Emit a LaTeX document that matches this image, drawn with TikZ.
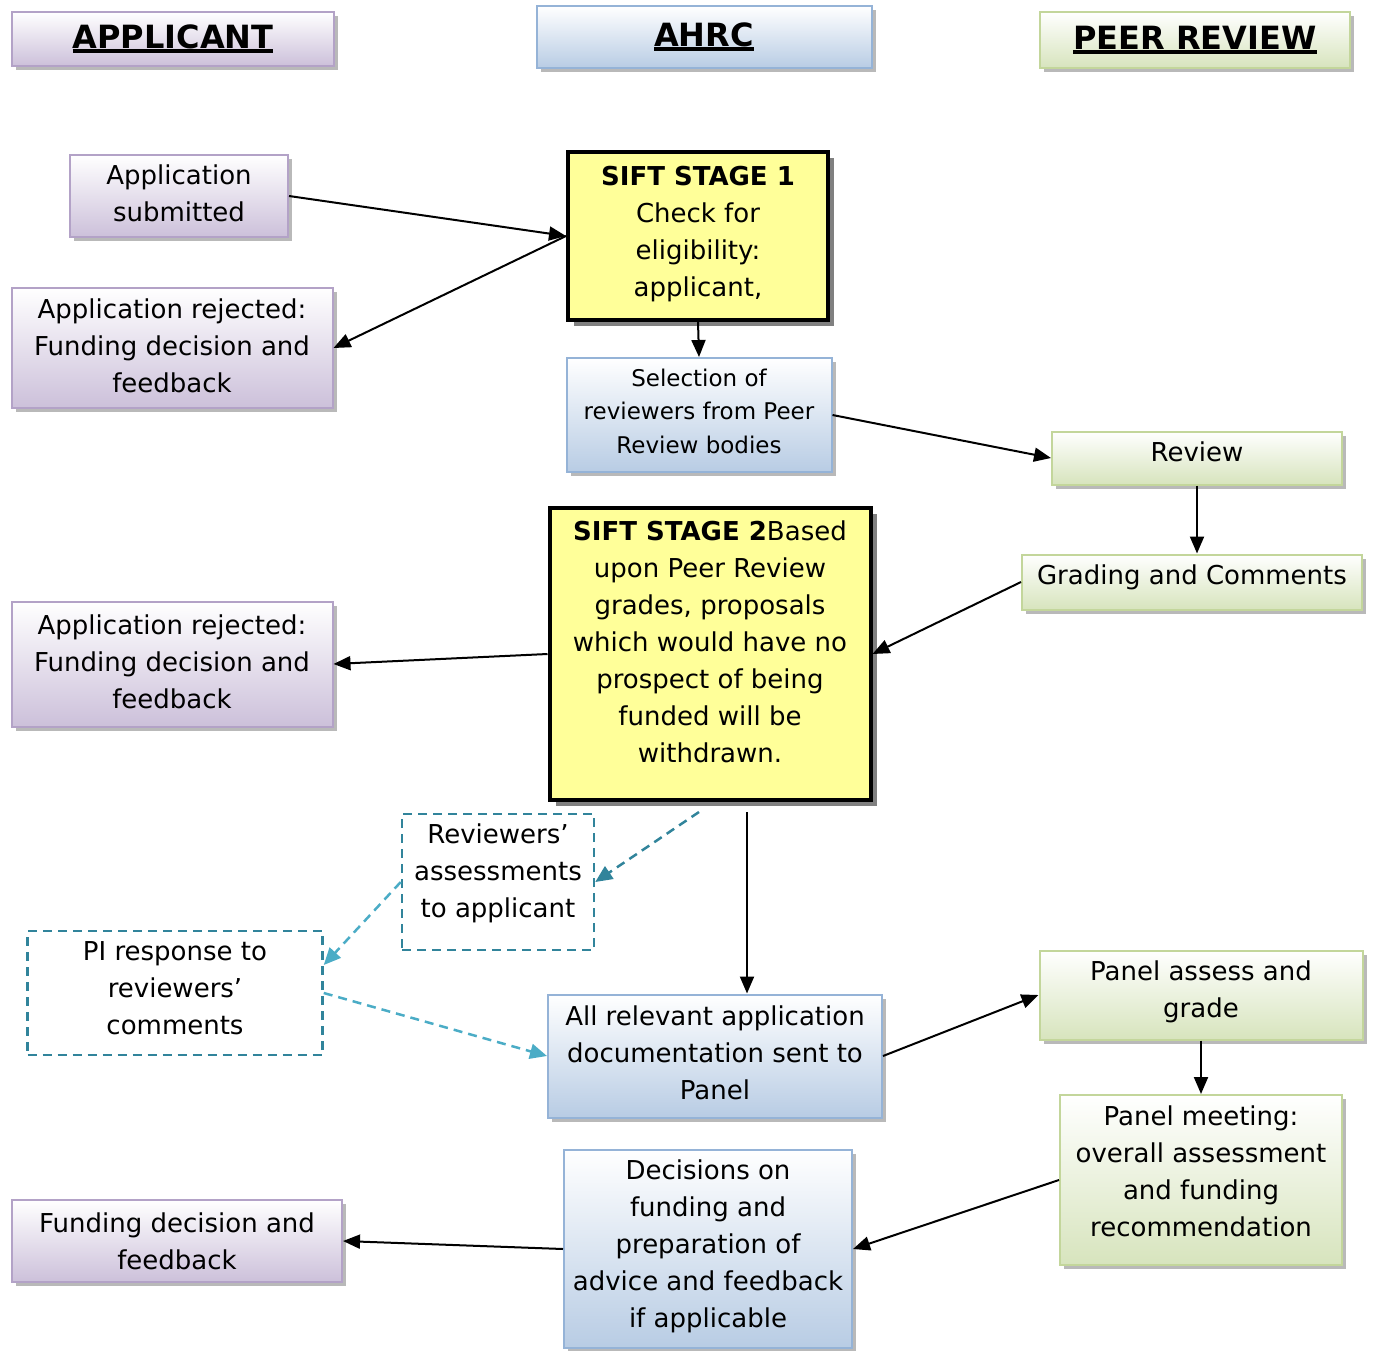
\documentclass[tikz,border=0pt]{standalone}
\usepackage{fontspec}
\setmainfont{DejaVu Sans}
\usepackage{tikz}
\usetikzlibrary{arrows.meta,shadows}

\definecolor{lilac}{HTML}{B3A2C7}
\definecolor{lilacfill}{HTML}{CCC0DA}
\definecolor{skyline}{HTML}{95B3D7}
\definecolor{skyfill}{HTML}{B8CCE4}
\definecolor{sageline}{HTML}{C3D69B}
\definecolor{sagefill}{HTML}{D7E4BD}
\definecolor{siftyellow}{HTML}{FFFF99}
\definecolor{tealdark}{HTML}{31849B}
\definecolor{teallight}{HTML}{4BACC6}

% heading with a heavy underline
\newcommand{\hdline}[1]{\setbox0\hbox{#1}\rlap{\raisebox{-5pt}{\rule{\wd0}{4pt}}}\box0}

\begin{document}
\begin{tikzpicture}[x=1pt,y=-1pt,
        font=\fontsize{26}{37}\selectfont,
        box/.style={rectangle,draw,line width=2pt,align=center,inner sep=2pt,
          drop shadow={shadow xshift=4pt,shadow yshift=-4pt,fill=gray!55,opacity=1}},
        applicant/.style={box,draw=lilac,top color=white,bottom color=lilacfill},
        ahrc/.style={box,draw=skyline,top color=white,bottom color=skyfill},
        peer/.style={box,draw=sageline,top color=white,bottom color=sagefill},
        heading/.style={font=\fontsize{32}{38}\selectfont\bfseries},
        sift/.style={rectangle,draw=black,line width=4pt,fill=siftyellow,align=center,
          drop shadow={shadow xshift=6pt,shadow yshift=-6pt,fill=gray,opacity=1}},
        note/.style={rectangle,draw=tealdark,line width=2.5pt,dash pattern=on 9pt off 6pt,align=center},
        flow/.style={-{Triangle[length=17pt,width=14pt]},line width=2pt},
        hint/.style={-{Triangle[length=17pt,width=15pt]},line width=2.5pt,dash pattern=on 9pt off 6pt}]
        \useasboundingbox (0,0) rectangle (1373,1351);

        % column headings
        \node[applicant,heading,minimum width=322pt,minimum height=54pt] (hApplicant) at (173,39) {\hdline{APPLICANT}};
        \node[ahrc,heading,minimum width=335pt,minimum height=62pt] (hAhrc) at (704,37) {\hdline{AHRC}};
        \node[peer,heading,minimum width=310pt,minimum height=56pt] (hPeer) at (1195,40) {\hdline{PEER REVIEW}};

        % applicant column
        \node[applicant,minimum width=218pt,minimum height=82pt,text depth=5pt] (submitted) at (179,196) {Application\\submitted};
        \node[applicant,minimum width=321pt,minimum height=120pt,text depth=4pt] (rejectA) at (172,348) {Application rejected:\\Funding decision and\\feedback};
        \node[applicant,minimum width=321pt,minimum height=125pt,text depth=4pt] (rejectB) at (172,664) {Application rejected:\\Funding decision and\\feedback};
        \node[note,draw=tealdark,minimum width=295pt,minimum height=124pt,text depth=10pt] (response) at (175,993) {PI response to\\reviewers’\\comments};
        \node[applicant,minimum width=330pt,minimum height=82pt] (funding) at (177,1241) {Funding decision and\\feedback};

        % AHRC column
        \node[sift,minimum width=260pt,minimum height=167pt,text depth=10pt] (siftA) at (698,236) {{\bfseries SIFT STAGE 1}\\Check for\\eligibility:\\applicant,};
        \node[ahrc,font=\fontsize{23}{33.5}\selectfont,minimum width=265pt,minimum height=114pt,text depth=8pt] (selection) at (699,415) {Selection of\\reviewers from Peer\\Review bodies};
        \node[sift,minimum width=321pt,minimum height=292pt,text depth=24pt] (siftB) at (710,654) {{\bfseries SIFT STAGE 2}Based\\upon Peer Review\\grades, proposals\\which would have no\\prospect of being\\funded will be\\withdrawn.};
        \node[note,minimum width=192pt,minimum height=136pt,text depth=22pt] (assessments) at (498,882) {Reviewers’\\assessments\\to applicant};
        \node[ahrc,minimum width=334pt,minimum height=123pt,text depth=6pt] (panelDocs) at (715,1056) {All relevant application\\documentation sent to\\Panel};
        \node[ahrc,minimum width=288pt,minimum height=198pt,text depth=10pt] (decisions) at (708,1249) {Decisions on\\funding and\\preparation of\\advice and feedback\\if applicable};

        % peer review column
        \node[peer,minimum width=290pt,minimum height=53pt,text depth=12pt] (review) at (1197,458) {Review};
        \node[peer,minimum width=340pt,minimum height=55pt,text depth=14pt] (grading) at (1192,582) {Grading and Comments};
        \node[peer,minimum width=323pt,minimum height=89pt,text depth=12pt] (panelGrade) at (1201,995) {Panel assess and\\grade};
        \node[peer,minimum width=282pt,minimum height=170pt,text depth=18pt] (panelMeet) at (1201,1180) {Panel meeting:\\overall assessment\\and funding\\recommendation};

        % connectors
        \draw[flow] (submitted.east) -- (siftA.west);
        \draw[flow] (siftA.west) -- (rejectA.east);
        \draw[flow] (siftA.south) -- (selection.north);
        \draw[flow] (selection.east) -- (review.west);
        \draw[flow] (review.south) -- (review.south |- grading.north);
        \draw[flow] (grading.west) -- (siftB.east);
        \draw[flow] (siftB.west) -- (rejectB.east);
        \draw[flow] ([xshift=37pt,yshift=-10pt]siftB.south) -- ([xshift=32pt]panelDocs.north);
        \draw[hint,tealdark] ([xshift=-11pt,yshift=-10pt]siftB.south) -- (assessments.east);
        \draw[hint,teallight] (assessments.west) -- ([yshift=28pt]response.east);
        \draw[hint,teallight] (response.east) -- (panelDocs.west);
        \draw[flow] (panelDocs.east) -- (panelGrade.west);
        \draw[flow] (panelGrade.south) -- (panelMeet.north);
        \draw[flow] (panelMeet.west) -- (decisions.east);
        \draw[flow] (decisions.west) -- (funding.east);
\end{tikzpicture}
\end{document}
